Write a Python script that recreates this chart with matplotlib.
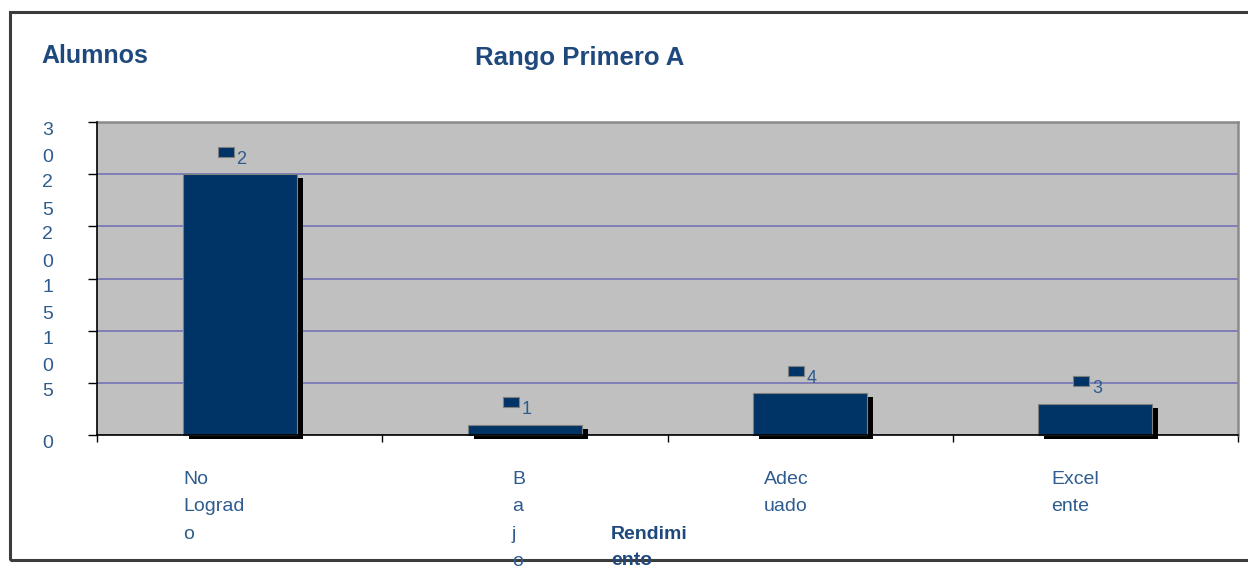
import numpy as np
import matplotlib.pyplot as plt
import matplotlib.patheffects as pe
from matplotlib.patches import Rectangle
from matplotlib.transforms import offset_copy

plt.rcParams['font.family'] = ['Liberation Sans', 'DejaVu Sans']

categorias = ["No\nLograd\no", "B\na\nj\no", "Adec\nuado", "Excel\nente"]
alumnos = [25, 1, 4, 3]
y_ticks = [0, 5, 10, 15, 20, 25, 30]

navy = '#003366'
text_dark = '#1F497D'
text_blue = '#2E5C8E'

W, H = 1248, 569
fig = plt.figure(figsize=(W / 100, H / 100), dpi=100)
ax = fig.add_axes([97 / W, 1 - 435 / H, (1238 - 97) / W, (435 - 122) / H])
ax.set_facecolor('#C0C0C0')

x = np.arange(len(alumnos))

# bars with a hard black drop shadow
ax.bar(x, alumnos, width=0.4, color=navy, edgecolor='#808080', linewidth=0.8,
       zorder=3, clip_on=False,
       path_effects=[pe.SimplePatchShadow(offset=(4.3, -2.9), shadow_rgbFace='black', alpha=1),
                     pe.Normal()])

ax.set_xlim(-0.5, len(alumnos) - 0.5)
ax.set_ylim(0, 30)

# y axis: digits stacked one per line
ax.set_yticks(y_ticks)
ax.set_yticklabels(["\n".join(str(t)) for t in y_ticks], fontsize=14, color=text_blue,
                   va='top', ha='center', linespacing=1.8)
ax.tick_params(axis='y', direction='out', length=6.5, width=1, pad=29, colors='black',
               labelcolor=text_blue)

ax.set_xticks(np.arange(-0.5, len(alumnos), 1.0))
ax.set_xticklabels([])
ax.tick_params(axis='x', direction='out', length=5, width=1)

ax.yaxis.grid(True, color='#7474B4', linewidth=1.2, zorder=1)
ax.set_axisbelow(True)

for s in ['left', 'bottom']:
    ax.spines[s].set_color('black')
    ax.spines[s].set_linewidth(1.2)
    ax.spines[s].set_zorder(4)
for s in ['top', 'right']:
    ax.spines[s].set_color('#8A8A8A')
    ax.spines[s].set_linewidth(1.8)

# legend-key boxes next to the data labels
key = [(-1.7, -1), (1.7, -1), (1.7, 1), (-1.7, 1), (-1.7, -1)]
ax.plot(x, alumnos, ls='none', marker=key, ms=12.2, mfc=navy, mec='#808080', mew=0.8,
        clip_on=False, zorder=5,
        transform=offset_copy(ax.transData, fig, x=-14, y=22.5, units='dots'))

# data labels only show the leading digit
for i, v in enumerate(alumnos):
    ax.annotate(str(v)[0], xy=(i, v), xytext=(-2.5, 10.8), textcoords='offset points',
                ha='left', va='center', fontsize=13, color=text_blue, zorder=6)

# category names, wrapped and left aligned under each bar
label_dx = [-56, -13, -46, -44]
for i, (lab, dx) in enumerate(zip(categorias, label_dx)):
    ax.annotate(lab, xy=(i, 0), xycoords=('data', 'axes fraction'),
                xytext=(dx * 0.72, -36 * 0.72), textcoords='offset points',
                ha='left', va='top', fontsize=14, color=text_blue, linespacing=1.8,
                annotation_clip=False)

# outer chart frame
fig.add_artist(Rectangle((10 / W, 1 - 560 / H), (1300 - 10) / W, (560 - 12) / H,
                         transform=fig.transFigure, fill=False, ec='#3C3C3C', lw=2.2,
                         zorder=0))

fig.text(41 / W, 1 - 63 / H, "Alumnos", ha='left', va='baseline', fontsize=18,
         weight='bold', color=text_dark)
fig.text(580 / W, 1 - 65 / H, "Rango Primero A", ha='center', va='baseline', fontsize=18.5,
         weight='bold', color=text_dark)
# axis title sits low and runs over the frame line
fig.text(611 / W, 1 - 565 / H, "Rendimi\nento", ha='left', va='baseline', fontsize=14,
         weight='bold', color=text_dark, linespacing=1.7, zorder=5)

fig.savefig('out.png', dpi=100)
